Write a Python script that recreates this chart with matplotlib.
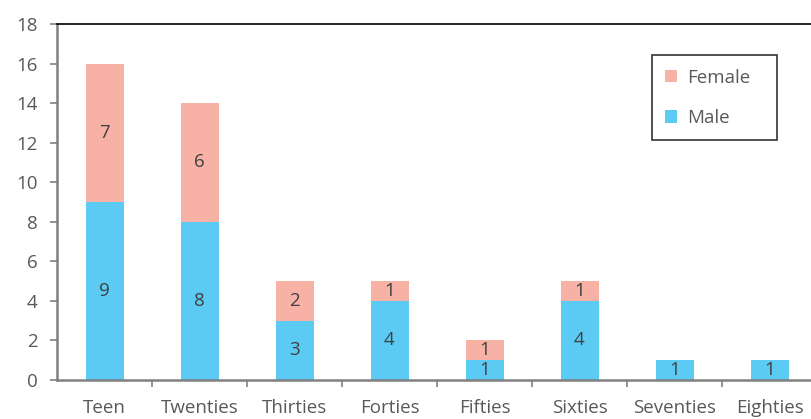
import matplotlib
matplotlib.use('Agg')
import matplotlib.pyplot as plt
import numpy as np

plt.rcParams['font.family'] = ['Open Sans', 'DejaVu Sans']

categories = ['Teen', 'Twenties', 'Thirties', 'Forties', 'Fifties', 'Sixties', 'Seventies', 'Eighties']
male = [9, 8, 3, 4, 1, 4, 1, 1]
female = [7, 6, 2, 1, 1, 1, 0, 0]

blue = '#5BCBF3'
pink = '#F8B1A5'
text_col = '#595959'
fs = 13.5

fig = plt.figure(figsize=(8.11, 4.19), dpi=100)
ax = fig.add_axes([57 / 811, 39 / 419, 760 / 811, 356 / 419])

x = np.arange(len(categories))
b1 = ax.bar(x, male, width=0.4, color=blue, label='Male')
b2 = ax.bar(x, female, width=0.4, bottom=male, color=pink, label='Female')

# labels in the middle of each segment, skip zeros
for i in range(len(categories)):
    if male[i] > 0:
        ax.text(x[i], male[i] / 2, str(male[i]), ha='center', va='center',
                fontsize=fs, color='#404040')
    if female[i] > 0:
        ax.text(x[i], male[i] + female[i] / 2, str(female[i]), ha='center', va='center',
                fontsize=fs, color='#404040')

ax.set_xlim(-0.5, 7.5)
ax.set_ylim(0, 18)
ax.set_yticks(range(0, 19, 2))
ax.set_xticks(x)
ax.set_xticklabels(categories)
ax.set_xticks(np.arange(0.5, 7.5, 1), minor=True)
ax.tick_params(axis='x', which='major', length=0, pad=14, labelsize=fs, labelcolor=text_col)
ax.tick_params(axis='x', which='minor', length=5, width=1.2, color='#808080')
ax.tick_params(axis='y', length=5, width=1.2, color='#808080', labelsize=fs,
               labelcolor=text_col, pad=9)

ax.spines['right'].set_visible(False)
ax.spines['top'].set_color('black')
ax.spines['top'].set_linewidth(1.2)
for s in ['left', 'bottom']:
    ax.spines[s].set_color('#808080')
    ax.spines[s].set_linewidth(1.8)

leg = ax.legend(handles=[b2, b1], loc='upper left',
                bbox_to_anchor=(595 / 760, 1 - 35 / 356, 125 / 760, 0.01), mode='expand',
                frameon=True, fancybox=False, fontsize=fs, labelspacing=1.2,
                handlelength=0.65, handleheight=0.65, handletextpad=0.5,
                borderpad=0.7, borderaxespad=0)
leg.get_frame().set_edgecolor('black')
leg.get_frame().set_linewidth(1.2)
for t in leg.get_texts():
    t.set_color(text_col)

fig.savefig('out.png', dpi=100)
